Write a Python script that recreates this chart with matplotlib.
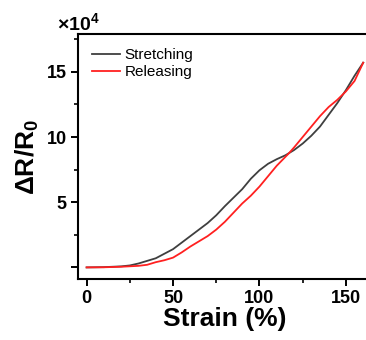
import matplotlib
matplotlib.use("Agg")
import matplotlib.pyplot as plt
from matplotlib.ticker import MultipleLocator

plt.rcParams['font.family'] = ['Liberation Sans', 'DejaVu Sans']
plt.rcParams['mathtext.fontset'] = 'custom'
plt.rcParams['mathtext.rm'] = 'Liberation Sans'
plt.rcParams['mathtext.bf'] = 'Liberation Sans:bold'

# strain (%) and dR/R0 in units of 1e4
strain_stretch = [0, 10, 20, 25, 30, 40, 50, 55, 60, 65, 70, 75, 80, 85, 90,
                  95, 100, 105, 110, 115, 120, 125, 130, 135, 140, 145, 150,
                  155, 160]
resp_stretch = [0, 0.02, 0.08, 0.15, 0.3, 0.7, 1.4, 1.9, 2.4, 2.9, 3.4, 4.0,
                4.7, 5.35, 6.0, 6.8, 7.45, 7.95, 8.3, 8.6, 9.0, 9.5, 10.1,
                10.8, 11.7, 12.6, 13.6, 14.7, 15.7]
strain_release = [0, 10, 20, 30, 35, 40, 45, 50, 55, 60, 65, 70, 75, 80, 85,
                  90, 95, 100, 105, 110, 117, 120, 125, 130, 135, 140, 145,
                  150, 155, 160]
resp_release = [0, 0.01, 0.05, 0.12, 0.2, 0.4, 0.55, 0.75, 1.15, 1.6, 2.0,
                2.4, 2.9, 3.5, 4.2, 4.9, 5.5, 6.2, 7.0, 7.8, 8.75, 9.2, 10.0,
                10.8, 11.6, 12.3, 12.85, 13.5, 14.3, 15.7]

fig = plt.figure(figsize=(3.66, 3.40), dpi=100)
ax = fig.add_axes([0.213, 0.179, 0.803, 0.721])

ax.plot(strain_stretch, resp_stretch, color='#3f3f3f', lw=1.3, label='Stretching')
ax.plot(strain_release, resp_release, color='#ff2020', lw=1.3, label='Releasing')

ax.set_xlim(-5, 165)
ax.set_ylim(-0.9, 17.9)
ax.xaxis.set_major_locator(MultipleLocator(50))
ax.xaxis.set_minor_locator(MultipleLocator(25))
ax.set_yticks([0, 5, 10, 15])
ax.set_yticklabels(['', '5', '10', '15'])
ax.yaxis.set_minor_locator(MultipleLocator(2.5))
ax.tick_params(which='major', direction='out', length=5, width=1.4,
               labelsize=13, pad=3)
ax.tick_params(which='minor', direction='out', length=3, width=1.2)
for lab in ax.get_xticklabels() + ax.get_yticklabels():
    lab.set_fontweight('bold')
for sp in ax.spines.values():
    sp.set_linewidth(1.5)
ax.spines['right'].set_visible(False)

ax.set_xlabel('Strain (%)', fontsize=19, fontweight='bold', labelpad=0)
ax.set_ylabel(r'ΔR/R$_\mathbf{0}$', fontsize=19, fontweight='bold', labelpad=4)

fig.text(0.155, 0.9, r'$\mathbf{\times 10^4}$', fontsize=14, ha='left', va='bottom')

ax.legend(loc='upper left', frameon=False, fontsize=11, handlelength=1.8,
          handletextpad=0.3, labelspacing=0.2, borderaxespad=0.3,
          bbox_to_anchor=(0.012, 0.985))

fig.savefig('out.png', dpi=100)
